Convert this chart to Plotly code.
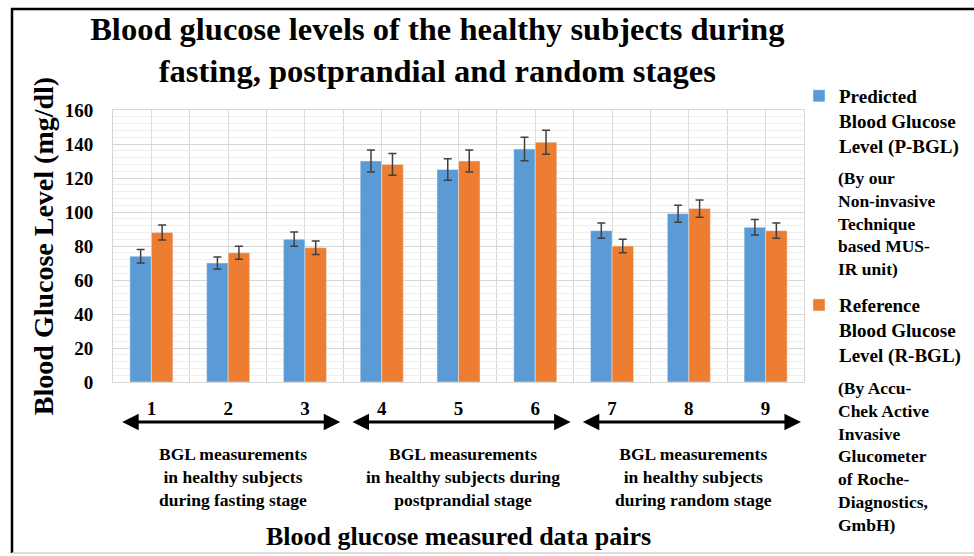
import plotly.graph_objects as go

# ---- data ----
pairs = [1, 2, 3, 4, 5, 6, 7, 8, 9]
predicted = [74, 70, 84, 130, 125, 137, 89, 99, 91]
predicted_err = [4.0, 3.5, 4.2, 6.5, 6.3, 6.9, 4.5, 5.0, 4.6]
reference = [88, 76, 79, 128, 130, 141, 80, 102, 89]
reference_err = [4.4, 3.8, 4.0, 6.4, 6.5, 7.1, 4.0, 5.1, 4.5]

series_names = ["Predicted<br>Blood Glucose<br>Level (P-BGL)",
                "Reference<br>Blood Glucose<br>Level (R-BGL)"]
series_notes = ["(By our<br>Non-invasive<br>Technique<br>based MUS-<br>IR unit)",
                "(By Accu-<br>Chek Active<br>Invasive<br>Glucometer<br>of Roche-<br>Diagnostics,<br>GmbH)"]
group_labels = ["BGL measurements<br>in healthy subjects<br>during fasting stage",
                "BGL measurements<br>in healthy subjects during<br>postprandial stage",
                "BGL measurements<br>in healthy subjects<br>during random stage"]
group_spans = [(1, 3), (4, 6), (7, 9)]

title_text = ("Blood glucose levels of the healthy subjects during<br>"
              "fasting, postprandial and random stages")
y_title = "Blood Glucose Level (mg/dl)"
x_title = "Blood glucose measured data pairs"

FONT = "Liberation Serif"
BLUE = "#5b9bd5"
ORANGE = "#ed7d31"

fig = go.Figure()
fig.add_trace(go.Bar(
    x=pairs, y=predicted, name=series_names[0], marker_color=BLUE,
    legendgroup="p",
    error_y=dict(type="data", array=predicted_err, color="#404040",
                 thickness=1.5, width=4)))
fig.add_trace(go.Bar(
    x=pairs, y=reference, name=series_names[1], marker_color=ORANGE,
    legendgroup="r",
    error_y=dict(type="data", array=reference_err, color="#404040",
                 thickness=1.5, width=4)))

# plot area in px: x 113..804, y 110..382
L, R, T, B = 113, 804, 110, 382
W, H = R - L, B - T


def px_x(px):
    return (px - L) / W


def px_y(py):
    return (B - py) / H


annotations = []
# group arrows and labels
for (a, b), lab in zip(group_spans, group_labels):
    annotations.append(dict(
        x=b + 0.46, y=px_y(422), xref="x", yref="paper",
        ax=a - 0.4, ay=0, axref="x", ayref="pixel",
        text="", showarrow=True, arrowhead=2, startarrowhead=2,
        arrowside="end+start", arrowsize=1.1, startarrowsize=1.1,
        arrowwidth=3, arrowcolor="black"))
    annotations.append(dict(
        x=(a + b) / 2 + 0.06, y=px_y(442), xref="x", yref="paper",
        xanchor="center", yanchor="top", showarrow=False, align="center",
        text=lab, font=dict(family=FONT, size=17.5, color="black", weight="bold")))

# legend notes
for note, top in zip(series_notes, [166, 376]):
    annotations.append(dict(
        x=px_x(836), y=px_y(top), xref="paper", yref="paper",
        xanchor="left", yanchor="top", showarrow=False, align="left",
        text=note, font=dict(family=FONT, size=17.5, color="black", weight="bold")))

shapes = [
    dict(type="line", xref="paper", yref="paper", x0=px_x(12), x1=px_x(12),
         y0=px_y(8), y1=px_y(553), line=dict(color="black", width=2.5)),
    dict(type="line", xref="paper", yref="paper", x0=px_x(11), x1=px_x(980),
         y0=px_y(9), y1=px_y(9), line=dict(color="black", width=2.5)),
    dict(type="line", xref="paper", yref="paper", x0=px_x(12), x1=px_x(980),
         y0=px_y(553), y1=px_y(553), line=dict(color="#d0d0d0", width=1.5)),
]

fig.update_layout(
    width=974, height=556,
    margin=dict(l=L, r=974 - R, t=T, b=556 - B, autoexpand=False),
    paper_bgcolor="white", plot_bgcolor="white",
    font=dict(family=FONT, color="black"),
    title=dict(text=title_text, x=0.449, xanchor="center",
               y=0.928, yanchor="top", yref="container",
               font=dict(family=FONT, size=32.5, color="black", weight="bold")),
    barmode="group", bargap=0.44, bargroupgap=0,
    showlegend=True,
    legend=dict(x=px_x(799), xanchor="left", y=px_y(77), yanchor="top",
                traceorder="grouped", tracegroupgap=132, valign="top",
                maxheight=600,
                font=dict(family=FONT, size=19, color="black", weight="bold"),
                bgcolor="rgba(0,0,0,0)"),
    xaxis=dict(range=[0.5, 9.5], tickmode="linear", tick0=1, dtick=1,
               showgrid=True, gridcolor="#dcdcdc", gridwidth=1,
               minor=dict(tick0=0.5, dtick=1, showgrid=True,
                          gridcolor="#d6d6d6", gridwidth=1),
               showline=True, linecolor="#d6d6d6", mirror=True,
               ticks="", ticklabelstandoff=9, zeroline=False,
               tickfont=dict(family=FONT, size=19, color="black", weight="bold"),
               title=dict(text=x_title, standoff=109,
                          font=dict(family=FONT, size=26, color="black", weight="bold"))),
    yaxis=dict(range=[0, 160], tickmode="linear", tick0=0, dtick=20,
               showgrid=True, gridcolor="#d6d6d6", gridwidth=1,
               minor=dict(dtick=4, showgrid=True, gridcolor="#eeeeee", gridwidth=1),
               showline=True, linecolor="#d6d6d6", mirror=True,
               ticks="", ticklabelstandoff=15, zeroline=False,
               tickfont=dict(family=FONT, size=19, color="black", weight="bold"),
               title=dict(text=y_title, standoff=2,
                          font=dict(family=FONT, size=28, color="black", weight="bold"))),
    annotations=annotations,
    shapes=shapes,
)

fig.write_html("out.html", config={"displayModeBar": False},
               post_script="document.body.style.margin='0';document.body.style.padding='0';")
